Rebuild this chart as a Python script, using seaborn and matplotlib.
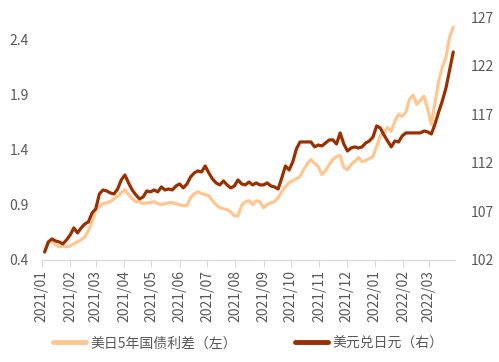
import pandas as pd
import seaborn as sns
import matplotlib.pyplot as plt
import matplotlib.dates as mdates

# 每4天取一个点, 2021/01/04 - 2022/03/28
dates = pd.date_range('2021-01-04', periods=113, freq='4D')

# 美元兑日元 (右轴)
usdjpy = [102.82, 103.85, 104.16, 103.95, 103.85, 103.65, 104.06, 104.57, 105.29, 104.78,
          105.29, 105.70, 105.91, 106.84, 107.25, 108.79, 109.20, 109.10, 108.89, 108.79,
          109.30, 110.23, 110.74, 109.92, 109.20, 108.69, 108.28, 108.48, 109.10, 109.00,
          109.20, 109.00, 109.51, 109.20, 109.30, 109.20, 109.61, 109.82, 109.41, 109.82,
          110.54, 110.95, 111.16, 111.05, 111.67, 110.95, 110.33, 109.92, 109.72, 110.13,
          109.72, 109.41, 109.61, 110.23, 109.82, 109.72, 110.02, 109.72, 109.92, 109.72,
          109.72, 109.92, 109.61, 109.51, 109.30, 110.44, 111.67, 111.26, 112.08, 113.42,
          114.14, 114.14, 114.14, 114.14, 113.63, 113.83, 113.73, 114.04, 114.35, 114.35,
          113.93, 115.07, 113.93, 113.21, 113.52, 113.63, 113.52, 113.63, 114.04, 114.24,
          114.65, 115.79, 115.58, 114.86, 114.24, 113.63, 114.24, 114.14, 114.76, 115.07,
          115.07, 115.07, 115.07, 115.07, 115.27, 115.17, 114.96, 115.99, 117.23, 118.36,
          119.70, 121.55, 123.40]

# 美日5年国债利差 (左轴)
spread = [0.473, 0.555, 0.573, 0.536, 0.518, 0.527, 0.518, 0.527, 0.545, 0.564,
          0.582, 0.609, 0.664, 0.745, 0.855, 0.882, 0.909, 0.918, 0.927, 0.955,
          0.973, 1.009, 1.036, 0.991, 0.955, 0.927, 0.927, 0.909, 0.918, 0.918,
          0.927, 0.909, 0.900, 0.909, 0.918, 0.918, 0.909, 0.900, 0.891, 0.891,
          0.964, 1.000, 1.018, 1.000, 0.991, 0.982, 0.936, 0.900, 0.873, 0.864,
          0.855, 0.836, 0.800, 0.800, 0.891, 0.927, 0.936, 0.900, 0.936, 0.927,
          0.873, 0.900, 0.918, 0.927, 0.964, 1.018, 1.064, 1.100, 1.118, 1.136,
          1.155, 1.218, 1.273, 1.309, 1.273, 1.245, 1.173, 1.209, 1.264, 1.309,
          1.336, 1.345, 1.236, 1.218, 1.264, 1.291, 1.327, 1.291, 1.300, 1.318,
          1.336, 1.427, 1.527, 1.555, 1.600, 1.564, 1.655, 1.718, 1.700, 1.736,
          1.855, 1.891, 1.809, 1.845, 1.882, 1.764, 1.627, 1.827, 2.018, 2.145,
          2.236, 2.418, 2.509]

light = '#FFC78F'
dark = '#9A3000'

sns.set_style('white')
plt.rcParams['font.family'] = ['Noto Sans CJK SC', 'DejaVu Sans']

f = plt.figure(figsize=(4.99, 3.62), dpi=100)
ax1 = f.add_axes([0.084, 0.282, 0.828, 0.671])
ax2 = ax1.twinx()

sns.lineplot(x=dates, y=spread, color=light, linewidth=2.3, ax=ax1, label='美日5年国债利差（左）', legend=False)
sns.lineplot(x=dates, y=usdjpy, color=dark, linewidth=2.3, ax=ax2, label='美元兑日元（右）', legend=False)

ax1.set_ylim(0.4, 2.6)
ax1.set_yticks([0.4, 0.9, 1.4, 1.9, 2.4])
ax2.set_ylim(102, 127)
ax2.set_yticks([102, 107, 112, 117, 122, 127])
ax1.set_xlim(pd.Timestamp('2021-01-01'), pd.Timestamp('2022-03-30'))

ax1.xaxis.set_major_locator(mdates.MonthLocator())
ax1.xaxis.set_major_formatter(mdates.DateFormatter('%Y/%m'))
for lab in ax1.get_xticklabels():
    lab.set_rotation(90)

for a in (ax1, ax2):
    for s in ['top', 'left', 'right']:
        a.spines[s].set_visible(False)
    a.spines['bottom'].set_color('#D9D9D9')
    a.set(xlabel=None, ylabel=None)
    a.grid(False)

ax1.tick_params(axis='x', which='major', bottom=True, direction='out', length=5,
                color='#D9D9D9', labelsize=10, labelcolor='#595959', pad=2)
ax1.tick_params(axis='y', left=False, labelsize=10, labelcolor='#595959', pad=6)
ax2.tick_params(axis='y', right=False, labelsize=10, labelcolor='#595959', pad=8)

h1, l1 = ax1.get_legend_handles_labels()
h2, l2 = ax2.get_legend_handles_labels()
leg = f.legend(h1 + h2, l1 + l2, loc='center', bbox_to_anchor=(0.497, 0.052), ncol=2,
               frameon=False, fontsize=10, handlelength=2.4, handletextpad=0.3,
               columnspacing=4.2, labelcolor='#595959')
for line in leg.get_lines():
    line.set_linewidth(3.5)

f.savefig('out.png', dpi=100)
